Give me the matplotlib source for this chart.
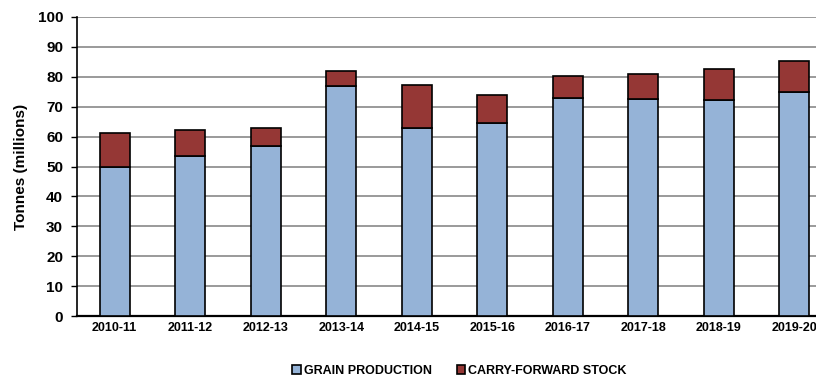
import matplotlib.pyplot as plt

# Grain supply by season (million tonnes)
seasons = ['2010-11', '2011-12', '2012-13', '2013-14', '2014-15',
           '2015-16', '2016-17', '2017-18', '2018-19', '2019-20']
production = [50.0, 53.5, 56.9, 76.8, 62.8, 64.7, 72.8, 72.5, 72.2, 75.0]
carry_forward = [11.1, 8.6, 5.9, 5.0, 14.4, 9.2, 7.6, 8.5, 10.3, 10.2]

plt.rcParams['font.family'] = ['Liberation Sans', 'DejaVu Sans']
plt.rcParams['font.weight'] = 'bold'

fig = plt.figure(figsize=(8.16, 3.75), dpi=100)
# axes run past the right edge of the figure
ax = fig.add_axes([77 / 816, 59 / 375, 755 / 816, 299 / 375])

x = list(range(len(seasons)))
ax.bar(x, production, width=0.4, color='#95B3D7', edgecolor='black',
       linewidth=1.2, label='GRAIN PRODUCTION', zorder=3)
ax.bar(x, carry_forward, width=0.4, bottom=production, color='#953735',
       edgecolor='black', linewidth=1.2, label='CARRY-FORWARD STOCK', zorder=3)

ax.set_xlim(-0.5, len(seasons) - 0.5)
ax.set_ylim(0, 100)
ax.set_yticks(range(0, 101, 10))
ax.set_xticks(x)
ax.set_xticklabels(seasons, fontsize=9, fontweight='bold')
for lbl in ax.get_yticklabels():
    lbl.set_fontsize(11)
    lbl.set_fontweight('bold')
ax.tick_params(axis='x', length=0, pad=4)
ax.tick_params(axis='y', length=4, width=1, pad=6)
ax.set_ylabel('Tonnes (millions)', fontsize=11, fontweight='bold', labelpad=7)

ax.grid(axis='y', color='#7f7f7f', linewidth=1.1, zorder=0)
ax.spines['top'].set_visible(False)
ax.spines['right'].set_visible(False)
ax.spines['left'].set_linewidth(1.2)
ax.spines['bottom'].set_linewidth(1.6)

fig.legend(loc='center', bbox_to_anchor=(0.563, 0.012), ncol=2,
           frameon=False, prop={'size': 9, 'weight': 'bold'},
           handlelength=0.7, handleheight=0.7, handletextpad=0.2,
           columnspacing=2.0, borderpad=0)

fig.savefig('out.png', dpi=100)
